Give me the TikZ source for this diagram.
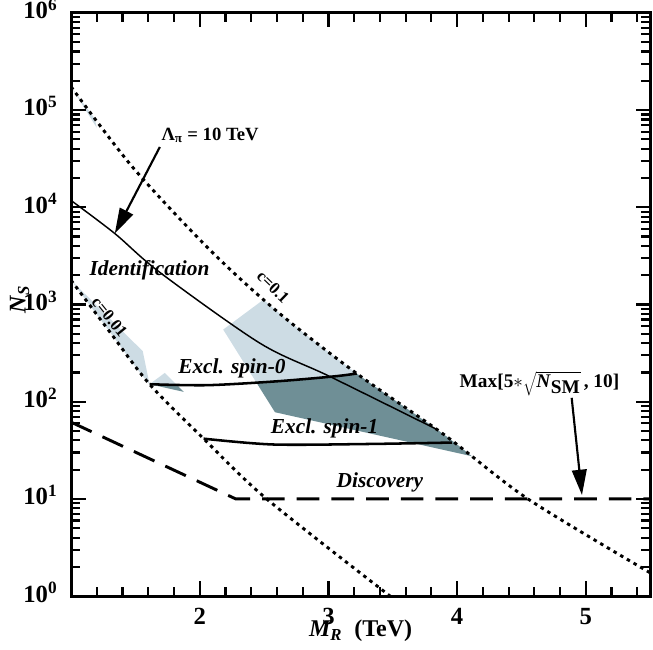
\documentclass[tikz,border=0pt]{standalone}
\usepackage{fontspec}
\setmainfont{Liberation Serif}
\usetikzlibrary{arrows.meta}
\definecolor{lightreg}{HTML}{CDDCE4}
\definecolor{darkreg}{HTML}{6F8F96}
\begin{document}
\begin{tikzpicture}[x=96.5pt,y=72.9pt,
  dotcurve/.style={line width=2.2pt,dash pattern=on 2.6pt off 3.2pt},
  longdash/.style={line width=2.2pt,dash pattern=on 17pt off 9pt},
  axisline/.style={line width=2.2pt},
  lbl/.style={font=\fontsize{16}{16}\selectfont\bfseries\itshape},
  clbl/.style={font=\fontsize{12.5}{12.5}\selectfont\bfseries},
  ticklbl/.style={font=\fontsize{18.5}{18.5}\selectfont\bfseries},
  bigarrow/.style={line width=1.6pt,-{Triangle[length=19pt,width=11pt]}}]
\useasboundingbox (0.448,-0.545) rectangle (5.522,6.132);
\def\cA{plot[smooth] coordinates {(1,5.24) (1.48,4.41) (2.08,3.56) (2.6,2.93) (3.22,2.29) (3.9,1.66) (4.55,1.0) (5.5,0.24)}}
\def\cB{plot[smooth] coordinates {(3.48,0) (2.52,1.0) (2.03,1.62) (1.61,2.18) (1.3,2.72) (1,3.25)}}
\def\cBf{plot[smooth] coordinates {(1,3.25) (1.3,2.72) (1.61,2.18) (2.03,1.62) (2.52,1.0) (3.48,0)}}
\def\spinO{plot[smooth] coordinates {(1.61,2.18) (2.06,2.17) (2.6,2.21) (3.04,2.26) (3.22,2.29)}}
% shaded regions
\begin{scope}
  \clip \cA -- (5.5,0) -- (3.48,0) \cB -- cycle;
  \fill[lightreg] (1,6.1) -- (1,2.18) -- (1.61,2.18) \spinO -- (5.6,2.29) -- (5.6,6.1) -- cycle;
  \fill[darkreg] (1,1) -- (1,2.18) -- (1.61,2.18) \spinO -- (5.6,2.29) -- (5.6,1) -- cycle;
\end{scope}
% curves
\begin{scope}
  \clip (1,0) rectangle (5.5,6);
  \draw[dotcurve] \cA;
  \draw[dotcurve] \cBf;
  \draw[line width=1.1pt] plot[smooth] coordinates {(1,4.07) (1.34,3.73) (1.69,3.33) (2.47,2.60) (3.01,2.26) (3.85,1.71)};
  \draw[line width=1.9pt] \spinO;
  \draw[line width=1.9pt] plot[smooth] coordinates {(2.03,1.62) (2.57,1.56) (3.3,1.565) (3.96,1.58)};
  \draw[longdash] (1,1.79) -- (2.28,1.0) -- (5.5,1.0);
\end{scope}
% axes and ticks
\draw[axisline] (1,0) rectangle (5.5,6);
\foreach \d in {0,...,5}{
  \foreach \k in {2,...,9}{
    \draw[line width=1.6pt] (1,{\d+log10(\k)}) -- ++(7pt,0);
    \draw[line width=1.6pt] (5.5,{\d+log10(\k)}) -- ++(-7pt,0);
  }}
\foreach \d in {1,...,5}{
  \draw[line width=1.6pt] (1,\d) -- ++(11pt,0);
  \draw[line width=1.6pt] (5.5,\d) -- ++(-11pt,0);
}
\foreach \x in {1.2,1.4,...,5.45}{
  \draw[line width=1.6pt] (\x,0) -- ++(0,7pt);
  \draw[line width=1.6pt] (\x,6) -- ++(0,-7pt);
}
\foreach \x in {2,...,5}{
  \draw[line width=1.6pt] (\x,0) -- ++(0,11pt);
  \draw[line width=1.6pt] (\x,6) -- ++(0,-11pt);
  \node[ticklbl,anchor=north] (xl\x) at (\x,-0.08) {\x};
}
\foreach \d in {0,...,6}{
  \node[ticklbl,anchor=east] (yl\d) at (0.93,\d+0.04) {10\textsuperscript{\d}};
}
% axis labels
\node[font=\fontsize{18}{18}\selectfont\bfseries,rotate=90] (ylab) at (0.60,3.05) {\textit{N\textsubscript{S}}};
\node[font=\fontsize{18}{18}\selectfont\bfseries] (xlab) at (3.25,-0.36) {\textit{M\textsubscript{R}}\ \ (TeV)};
% region labels
\node[lbl] (ident) at (1.61,3.35) {Identification};
\node[lbl] (s0) at (2.25,2.34) {Excl. spin-0};
\node[lbl] (s1) at (2.97,1.73) {Excl. spin-1};
\node[lbl] (disc) at (3.40,1.17) {Discovery};
\node[clbl,rotate=-44] (c1) at (2.57,3.18) {c=0.1};
\node[clbl,rotate=-51] (c2) at (1.30,2.87) {c=0.01};
% annotations
\node[font=\fontsize{14}{14}\selectfont\bfseries] (lam) at (2.08,4.74) {Λ\textsubscript{π} = 10 TeV};
\coordinate (lamfrom) at (1.69,4.62);
\coordinate (lamto) at (1.34,3.73);
\draw[bigarrow] (lamfrom) -- (lamto);
\node[font=\fontsize{14.5}{14.5}\selectfont\bfseries] (maxl) at (4.64,2.19) {Max[5$*$$\sqrt{\textbf{\textit{N}}_{\textbf{SM}}}$\,, 10]};
\coordinate (maxfrom) at (4.89,2.04);
\coordinate (maxto) at (4.97,1.04);
\draw[bigarrow] (maxfrom) -- (maxto);
\end{tikzpicture}
\end{document}
